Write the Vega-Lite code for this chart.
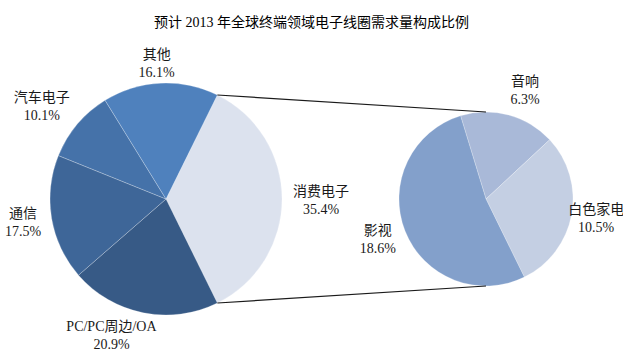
{
  "$schema": "https://vega.github.io/schema/vega-lite/v6.json",
  "width": 623,
  "height": 306,
  "autosize": "none",
  "padding": {"top": 46, "left": 0, "right": 0, "bottom": 0},
  "background": "white",
  "config": {"view": {"stroke": null}},
  "title": {
    "text": "预计 2013 年全球终端领域电子线圈需求量构成比例",
    "font": "Liberation Serif, Noto Sans CJK SC",
    "fontSize": 14,
    "fontWeight": "normal",
    "color": "#000000",
    "anchor": "middle",
    "offset": 16
  },
  "params": [
    {"name": "mainX", "value": 166},
    {"name": "subX", "value": 486},
    {"name": "rMain", "value": 116},
    {"name": "rSub", "value": 87},
    {"name": "a0", "value": 0.4587},
    {"name": "a1", "value": 2.6829}
  ],
  "datasets": {
    "main": [
      {"pie": "主", "name": "消费电子", "pct": 35.4, "ord": 1},
      {"pie": "主", "name": "PC/PC周边/OA", "pct": 20.9, "ord": 2},
      {"pie": "主", "name": "通信", "pct": 17.5, "ord": 3},
      {"pie": "主", "name": "汽车电子", "pct": 10.1, "ord": 4},
      {"pie": "主", "name": "其他", "pct": 16.1, "ord": 5}
    ],
    "sub": [
      {"pie": "子", "name": "音响", "pct": 6.3, "ord": 1},
      {"pie": "子", "name": "白色家电", "pct": 10.5, "ord": 2},
      {"pie": "子", "name": "影视", "pct": 18.6, "ord": 3}
    ],
    "links": [
      {"link": "上"},
      {"link": "下"}
    ]
  },
  "layer": [
    {
      "data": {"name": "main"},
      "transform": [
        {"calculate": "datum.name + '\\n' + format(datum.pct, '.1f') + '%'", "as": "label"}
      ],
      "encoding": {
        "theta": {"field": "pct", "type": "quantitative", "stack": true,
          "scale": {"domain": [0, 100], "range": [0.4587, 6.7419], "nice": false, "zero": true}},
        "order": {"field": "ord", "type": "quantitative"},
        "x": {"field": "pie", "type": "nominal", "axis": null,
          "scale": {"type": "point", "domain": ["主", "子"], "range": [166, 486], "padding": 0}}
      },
      "layer": [
        {
          "mark": {"type": "arc", "outerRadius": 116, "stroke": "#ffffff", "strokeWidth": 0.4, "strokeOpacity": 0.6},
          "encoding": {
            "color": {"field": "name", "type": "nominal", "legend": null,
              "scale": {
                "domain": ["消费电子", "PC/PC周边/OA", "通信", "汽车电子", "其他", "音响", "白色家电", "影视"],
                "range": ["#DCE2EE", "#375A86", "#3E6698", "#4572A9", "#4F81BD", "#A9B9D8", "#C4CFE3", "#83A0CB"]
              }}
          }
        },
        {
          "mark": {
            "type": "text",
            "font": "Liberation Serif, Noto Sans CJK SC",
            "fontSize": 14,
            "lineHeight": 18,
            "lineBreak": "\n",
            "align": "center",
            "baseline": "middle",
            "fill": "#1a1a1a",
            "radius": {"expr": "datum.name == '消费电子' ? 155 : datum.name == '其他' ? 135 : datum.name == '汽车电子' ? 152 : datum.name == 'PC/PC周边/OA' ? 140 : 145"},
            "dx": {"expr": "datum.name == '其他' ? -3 : datum.name == '汽车电子' ? -8 : datum.name == 'PC/PC周边/OA' ? -27 : 0"},
            "dy": {"expr": "datum.name == '汽车电子' ? -3 : datum.name == '消费电子' ? -7 : -9"}
          },
          "encoding": {
            "detail": {"field": "name", "type": "nominal"},
            "text": {"field": "label", "type": "nominal"}
          }
        }
      ]
    },
    {
      "data": {"name": "sub"},
      "transform": [
        {"calculate": "datum.name + '\\n' + format(datum.pct, '.1f') + '%'", "as": "label"}
      ],
      "encoding": {
        "theta": {"field": "pct", "type": "quantitative", "stack": true,
          "scale": {"domain": [0, 35.4], "range": [5.9865, 12.2697], "nice": false, "zero": true}},
        "order": {"field": "ord", "type": "quantitative"},
        "x": {"field": "pie", "type": "nominal", "axis": null}
      },
      "layer": [
        {
          "mark": {"type": "arc", "outerRadius": 87, "stroke": "#ffffff", "strokeWidth": 0.4, "strokeOpacity": 0.6},
          "encoding": {
            "color": {"field": "name", "type": "nominal", "legend": null}
          }
        },
        {
          "mark": {
            "type": "text",
            "font": "Liberation Serif, Noto Sans CJK SC",
            "fontSize": 14,
            "lineHeight": 18,
            "lineBreak": "\n",
            "align": "center",
            "baseline": "middle",
            "fill": "#1a1a1a",
            "radius": 112,
            "dx": {"expr": "datum.name == '音响' ? 10 : datum.name == '影视' ? -4 : 0"},
            "dy": -9
          },
          "encoding": {
            "detail": {"field": "name", "type": "nominal"},
            "text": {"field": "label", "type": "nominal"}
          }
        }
      ]
    },
    {
      "data": {"name": "links"},
      "mark": {"type": "rule", "color": "#1a1a1a", "strokeWidth": 1.2},
      "encoding": {
        "x": {"value": {"expr": "mainX + rMain * sin(a0)"}},
        "x2": {"value": {"expr": "subX"}},
        "y": {"value": {"expr": "height / 2 - rMain * cos(a0)"}},
        "y2": {"value": {"expr": "height / 2 - rSub"}},
        "detail": {"field": "link", "type": "nominal"}
      },
      "transform": [{"filter": "datum.link == '上'"}]
    },
    {
      "data": {"name": "links"},
      "mark": {"type": "rule", "color": "#1a1a1a", "strokeWidth": 1.2},
      "encoding": {
        "x": {"value": {"expr": "mainX + rMain * sin(a1)"}},
        "x2": {"value": {"expr": "subX"}},
        "y": {"value": {"expr": "height / 2 - rMain * cos(a1)"}},
        "y2": {"value": {"expr": "height / 2 + rSub"}},
        "detail": {"field": "link", "type": "nominal"}
      },
      "transform": [{"filter": "datum.link == '下'"}]
    }
  ],
  "resolve": {"scale": {"theta": "independent"}}
}
